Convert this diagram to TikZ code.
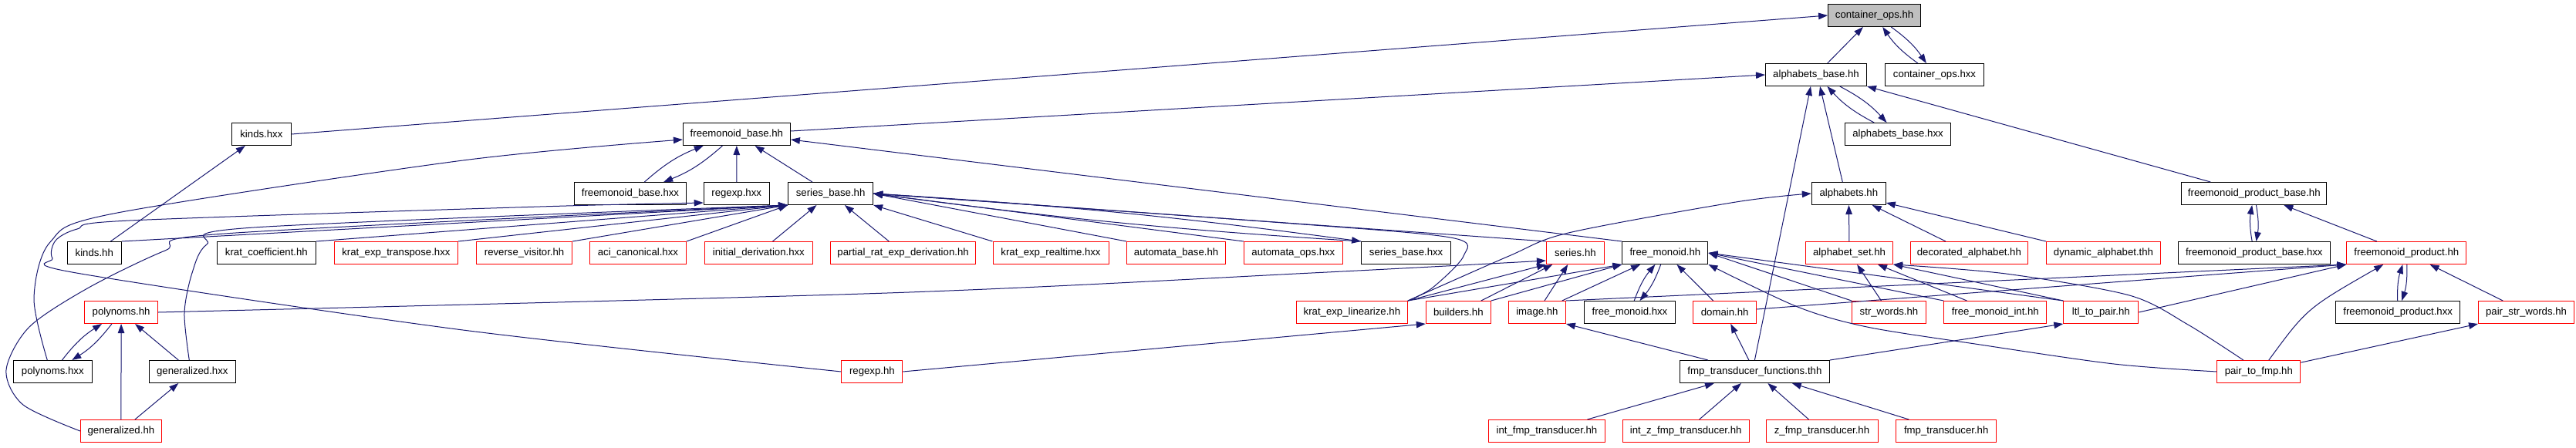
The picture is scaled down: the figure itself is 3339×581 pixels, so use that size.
\documentclass[tikz,border=0pt]{standalone}
\usepackage{fontspec}
\setmainfont{Liberation Sans}
\usetikzlibrary{arrows.meta}
\definecolor{edgeblue}{HTML}{191970}
\definecolor{rootgray}{HTML}{BFBFBF}
\begin{document}
\begin{tikzpicture}[>={Triangle[length=12pt,width=8.5pt]},x=1pt,y=-1pt,
    hfile/.style={draw=black,fill=white,line width=1pt,minimum height=29pt,inner sep=0pt,font=\fontsize{13.2}{15}\selectfont},
    hred/.style={hfile,draw=red},
    hroot/.style={hfile,fill=rootgray},
    dep/.style={->,draw=edgeblue,line width=1pt}]
    \useasboundingbox (0,0) rectangle (3339,581);
    %\draw[gray,very thin,step=100] (0,0) grid (3339,581);
    \node[hroot,minimum width=120pt] (cops) at (2429.6,20) {container\_ops.hh};
    \node[hfile,minimum width=131pt] (abase) at (2354,97) {alphabets\_base.hh};
    \node[hfile,minimum width=128pt] (copsx) at (2507.5,97) {container\_ops.hxx};
    \node[hfile,minimum width=77pt] (kindsx) at (338.9,174) {kinds.hxx};
    \node[hfile,minimum width=139pt] (fmbase) at (954.9,174) {freemonoid\_base.hh};
    \node[hfile,minimum width=137pt] (abasex) at (2460,174) {alphabets\_base.hxx};
    \node[hfile,minimum width=145pt] (fmbasex) at (817,251) {freemonoid\_base.hxx};
    \node[hfile,minimum width=85pt] (regexpx) at (954.7,251) {regexp.hxx};
    \node[hfile,minimum width=110pt] (sbase) at (1076.6,251) {series\_base.hh};
    \node[hfile,minimum width=96pt] (alph) at (2396.3,251) {alphabets.hh};
    \node[hfile,minimum width=188pt] (fmpbase) at (2921.8,251) {freemonoid\_product\_base.hh};
    \node[hfile,minimum width=70pt] (kinds) at (122.3,328) {kinds.hh};
    \node[hfile,minimum width=128pt] (kcoef) at (345.4,328) {krat\_coefficient.hh};
    \node[hred,minimum width=160pt] (ktransp) at (513.4,328) {krat\_exp\_transpose.hxx};
    \node[hred,minimum width=124pt] (revvis) at (679.6,328) {reverse\_visitor.hh};
    \node[hred,minimum width=125pt] (aci) at (826.9,328) {aci\_canonical.hxx};
    \node[hred,minimum width=140pt] (initder) at (983.4,328) {initial\_derivation.hxx};
    \node[hred,minimum width=188pt] (partder) at (1170.6,328) {partial\_rat\_exp\_derivation.hh};
    \node[hred,minimum width=150pt] (krealt) at (1362,328) {krat\_exp\_realtime.hxx};
    \node[hred,minimum width=128pt] (autbase) at (1524.6,328) {automata\_base.hh};
    \node[hred,minimum width=128pt] (autops) at (1676.4,328) {automata\_ops.hxx};
    \node[hfile,minimum width=116pt] (sbasex) at (1822.6,328) {series\_base.hxx};
    \node[hred,minimum width=75pt] (series) at (2041.9,328) {series.hh};
    \node[hfile,minimum width=111pt] (fmono) at (2158.4,328) {free\_monoid.hh};
    \node[hred,minimum width=113pt] (aset) at (2397.1,328) {alphabet\_set.hh};
    \node[hred,minimum width=152pt] (decor) at (2552.4,328) {decorated\_alphabet.hh};
    \node[hred,minimum width=148pt] (dynal) at (2726.5,328) {dynamic\_alphabet.thh};
    \node[hfile,minimum width=197pt] (fmpbasex) at (2921.8,328) {freemonoid\_product\_base.hxx};
    \node[hred,minimum width=155pt] (fmprod) at (3119.3,328) {freemonoid\_product.hh};
    \node[hred,minimum width=95pt] (polyh) at (157.1,405) {polynoms.hh};
    \node[hred,minimum width=144pt] (klin) at (1752.4,405) {krat\_exp\_linearize.hh};
    \node[hred,minimum width=84pt] (builders) at (1890.3,405) {builders.hh};
    \node[hred,minimum width=74pt] (image) at (1992.4,405) {image.hh};
    \node[hfile,minimum width=118pt] (fmonox) at (2112.5,405) {free\_monoid.hxx};
    \node[hred,minimum width=82pt] (domain) at (2235.7,405) {domain.hh};
    \node[hred,minimum width=96pt] (strw) at (2448.5,405) {str\_words.hh};
    \node[hred,minimum width=133pt] (fmint) at (2586.3,405) {free\_monoid\_int.hh};
    \node[hred,minimum width=97pt] (ltl) at (2723.3,405) {ltl\_to\_pair.hh};
    \node[hfile,minimum width=161pt] (fmprodx) at (3108.2,405) {freemonoid\_product.hxx};
    \node[hred,minimum width=124pt] (pstr) at (3274.5,405) {pair\_str\_words.hh};
    \node[hfile,minimum width=102pt] (polyx) at (68.3,482) {polynoms.hxx};
    \node[hfile,minimum width=112pt] (genx) at (249.3,482) {generalized.hxx};
    \node[hred,minimum width=79pt] (regexph) at (1130.4,482) {regexp.hh};
    \node[hfile,minimum width=194pt] (fmpfun) at (2274.4,482) {fmp\_transducer\_functions.thh};
    \node[hred,minimum width=108pt] (p2fmp) at (2927.8,482) {pair\_to\_fmp.hh};
    \node[hred,minimum width=105pt] (genh) at (156.9,559) {generalized.hh};
    \node[hred,minimum width=151pt] (intfmp) at (2005,559) {int\_fmp\_transducer.hh};
    \node[hred,minimum width=164pt] (intz) at (2185.2,559) {int\_z\_fmp\_transducer.hh};
    \node[hred,minimum width=145pt] (zfmp) at (2361.5,559) {z\_fmp\_transducer.hh};
    \node[hred,minimum width=130pt] (fmp) at (2522.7,559) {fmp\_transducer.hh};
    % files that include each other
    \foreach \a/\b in {copsx/cops,abasex/abase,fmbasex/fmbase,polyx/polyh,fmonox/fmono,fmpbasex/fmpbase,fmprodx/fmprod}
    {\draw[dep] (\a) to[bend left=10] (\b); \draw[dep] (\b) to[bend left=10] (\a);}
    \draw[dep] (abase) -- (cops);
    \draw[dep] (kindsx.east) -- (cops.west);
    \draw[dep] ([yshift=4pt]fmbase.east) -- (abase.west);
    \draw[dep] ([xshift=-8pt]alph.north) -- ([xshift=5pt]abase.south);
    \draw[dep] (fmpfun.north) -- ([xshift=-7pt]abase.south);
    \draw[dep] ([xshift=38pt]fmpbase.north west) -- (abase.south east);
    \draw[dep] (kinds) -- (kindsx);
    \draw[dep] (regexpx) -- (fmbase);
    \draw[dep] (sbase) -- (fmbase);
    \draw[dep] (fmono.north west) -- ([yshift=-7pt]fmbase.west -| fmbase.east);
    \draw[dep] plot[smooth] coordinates {([xshift=-7pt]polyx.north) (44,387) (65,314) (147,277) (600,208) ([yshift=-7pt]fmbase.west)};
    \draw[dep] plot[smooth] coordinates {(regexph.west) (600,428) (99,354) (68,335) (72,312) (100,297) (168,286) (700,268) ([yshift=3pt]regexpx.south west)};
    \draw[dep] plot[smooth] coordinates {(genh.west) (30,525) (8,480) (38,424) (115,373) (214,325) (291,303) (sbase.south west)};
    \draw[dep] plot[smooth] coordinates {([xshift=-4pt]genx.north) (239,406) (249,354) (268,317) (329,295) (sbase.south west)};
    \foreach \f in {kinds,kcoef,ktransp,revvis,aci}
    \draw[dep] (\f.north east) -- (sbase.south west);
    \draw[dep] (initder) -- (sbase);
    \draw[dep] (partder) -- (sbase);
    \draw[dep] (krealt.north west) -- (sbase.south east);
    \foreach \f in {autbase,autops,series}
    \draw[dep] (\f.north west) -- (sbase.east);
    \draw[dep] plot[smooth] coordinates {(klin.north east) (1857,373) (1897,332) (1880,308) (1650,288) (sbase.east)};
    \draw[dep] (sbase.east) to[bend left=2] (sbasex.north west);
    \draw[dep] (sbasex.north west) to[bend left=2] (sbase.east);
    \draw[dep] plot[smooth] coordinates {(polyh.east) (1150,380) (1700,354) ([yshift=5pt]series.south west)};
    \draw[dep] (klin.north east) -- (series.south west);
    \foreach \f in {builders,image}
    \draw[dep] (\f) -- (series);
    \draw[dep] (klin.north east) -- (fmono.south west);
    \draw[dep] (builders.north east) -- (fmono.south west);
    \draw[dep] (image) -- (fmono);
    \draw[dep] (domain) -- (fmono);
    \foreach \f in {strw,fmint,ltl}
    \draw[dep] (\f.north west) -- (fmono.east);
    \draw[dep] plot[smooth] coordinates {(p2fmp.west) (2740,472) (2560,446) (2420,424) (2330,398) (fmono.south east)};
    \draw[dep] plot[smooth] coordinates {(klin.north east) (1956,332) (2033,302) (2250,262) (alph.west)};
    \draw[dep] (aset) -- (alph);
    \draw[dep] (decor) -- (alph);
    \draw[dep] (dynal.north west) -- ([yshift=3pt]alph.south east);
    \draw[dep] (strw) -- (aset);
    \draw[dep] (fmint) -- (aset);
    \draw[dep] (ltl.north west) -- (aset.south east);
    \draw[dep] plot[smooth] coordinates {([xshift=-20pt]p2fmp.north) (2836,421) (2760,383) (2600,355) (aset.south east)};
    \draw[dep] (image.north east) -- (fmprod.south west);
    \draw[dep] ([yshift=4pt]domain.east) -- (fmprod.south west);
    \draw[dep] (ltl.east) -- (fmprod.south west);
    \draw[dep] ([xshift=13pt]p2fmp.north) .. controls (2990,400) .. ([xshift=-30pt]fmprod.south);
    \draw[dep] (pstr) -- (fmprod);
    \draw[dep] (fmprod) -- (fmpbase);
    \draw[dep] (p2fmp) -- (pstr.south west);
    \foreach \f in {intfmp,intz,zfmp,fmp}
    \draw[dep] (\f) -- (fmpfun);
    \draw[dep] ([xshift=37pt]fmpfun.north west) -- (image.south east);
    \draw[dep] (fmpfun) -- (domain);
    \draw[dep] (fmpfun.north east) -- (ltl.south west);
    \draw[dep] (regexph.east) -- (builders.south west);
    \draw[dep] (genh) -- (polyh);
    \draw[dep] (genx) -- (polyh);
    \draw[dep] (genh) -- (genx);
\end{tikzpicture}
\end{document}
